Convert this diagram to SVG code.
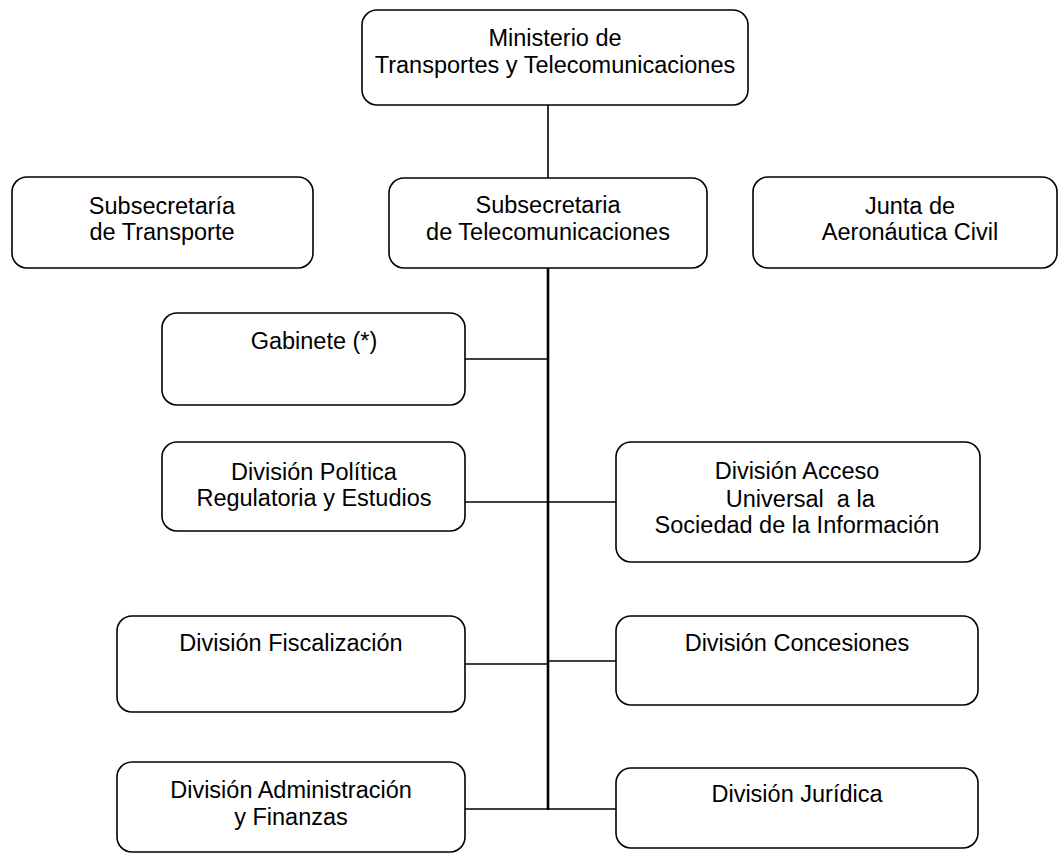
<svg xmlns="http://www.w3.org/2000/svg" width="1059" height="855" viewBox="0 0 1059 855">
<style>
.box{fill:#fff;stroke:#000;stroke-width:1.6}
.t{font-family:"Liberation Sans",Arial,sans-serif;font-size:23.5px;fill:#000;text-anchor:middle}
.pre{white-space:pre}
.c{stroke:#000;stroke-width:1.6;fill:none}
.trunk{stroke:#000;stroke-width:2.6;fill:none}
</style>
<rect x="0" y="0" width="1059" height="855" fill="#fff"/>
<g id="connectors">
<line class="c" x1="548" y1="105" x2="548" y2="178"/>
<line class="trunk" x1="548" y1="268" x2="548" y2="810"/>
<line class="c" x1="465" y1="359" x2="548" y2="359"/>
<line class="c" x1="465" y1="502" x2="616" y2="502"/>
<line class="c" x1="465" y1="664" x2="548" y2="664"/>
<line class="c" x1="548" y1="661" x2="616" y2="661"/>
<line class="c" x1="465" y1="809" x2="616" y2="809"/>
</g>
<g id="ministerio">
<rect class="box" x="362" y="10" width="386" height="95" rx="15"/>
<text class="t" x="555" y="46">Ministerio de</text>
<text class="t" x="555" y="73">Transportes y Telecomunicaciones</text>
</g>
<g id="sub-transporte">
<rect class="box" x="12" y="177" width="301" height="91" rx="15"/>
<text class="t" x="162" y="214">Subsecretaría</text>
<text class="t" x="162" y="240">de Transporte</text>
</g>
<g id="sub-telecom">
<rect class="box" x="389" y="178" width="318" height="90" rx="15"/>
<text class="t" x="548" y="213">Subsecretaria</text>
<text class="t" x="548" y="240">de Telecomunicaciones</text>
</g>
<g id="junta">
<rect class="box" x="753" y="177" width="304" height="91" rx="15"/>
<text class="t" x="910" y="214">Junta de</text>
<text class="t" x="910" y="240">Aeronáutica Civil</text>
</g>
<g id="gabinete">
<rect class="box" x="162" y="313" width="303" height="92" rx="15"/>
<text class="t" x="314" y="349">Gabinete (*)</text>
</g>
<g id="politica">
<rect class="box" x="162" y="442" width="303" height="89" rx="15"/>
<text class="t" x="314" y="480">División Política</text>
<text class="t" x="314" y="506">Regulatoria y Estudios</text>
</g>
<g id="acceso">
<rect class="box" x="616" y="442" width="364" height="120" rx="15"/>
<text class="t" x="797" y="479">División Acceso</text>
<text class="t pre" x="797" y="507" xml:space="preserve"> Universal  a la</text>
<text class="t" x="797" y="533">Sociedad de la Información</text>
</g>
<g id="fiscalizacion">
<rect class="box" x="117" y="616" width="348" height="96" rx="15"/>
<text class="t" x="291" y="651">División Fiscalización</text>
</g>
<g id="concesiones">
<rect class="box" x="616" y="616" width="362" height="89" rx="15"/>
<text class="t" x="797" y="651">División Concesiones</text>
</g>
<g id="administracion">
<rect class="box" x="117" y="762" width="348" height="90" rx="15"/>
<text class="t" x="291" y="798">División Administración</text>
<text class="t" x="291" y="825">y Finanzas</text>
</g>
<g id="juridica">
<rect class="box" x="616" y="768" width="362" height="80" rx="15"/>
<text class="t" x="797" y="802">División Jurídica</text>
</g>
</svg>
